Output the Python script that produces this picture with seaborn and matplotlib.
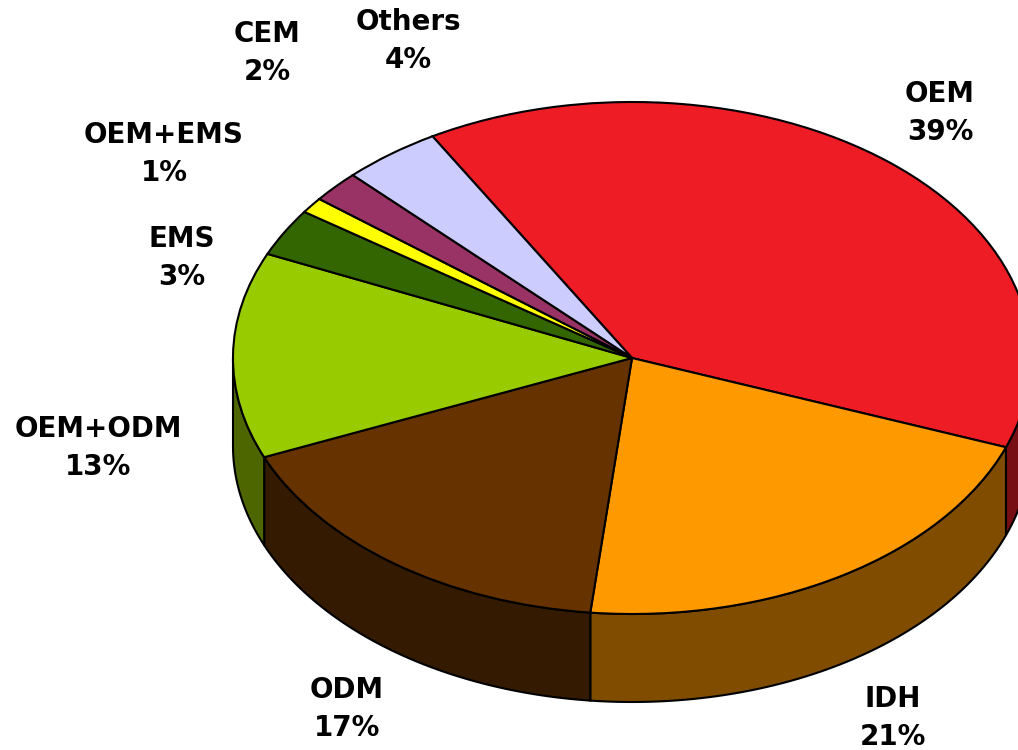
import numpy as np
import matplotlib
matplotlib.use('Agg')
import matplotlib.pyplot as plt
import seaborn as sns

# shares, clockwise from the Others/OEM edge
names = ['OEM', 'IDH', 'ODM', 'OEM+ODM', 'EMS', 'OEM+EMS', 'CEM', 'Others']
shares = [39, 21, 17, 13, 3, 1, 2, 4]
top_colors = ['#ee1c25', '#ff9900', '#663300', '#99cc00', '#336600', '#ffff00', '#993366', '#ccccff']
side_colors = ['#770e13', '#804d00', '#331a00', '#4d6600', '#1a3300', '#808000', '#4d1a33', '#666680']

# label centres in pixels of the picture
label_x = [940, 893, 347, 98, 182, 164, 267, 408]
label_y = [113, 718, 709, 448, 258, 154, 53, 41]

sns.set_theme(style='white')
plt.rcParams['font.family'] = ['DejaVu Sans']

W, H = 1018, 750
cx, cy = 632, 358   # pie centre
rx, ry = 399, 256   # ellipse radii
depth = 88 / ry     # wall height in pie units
start = 120

fig = plt.figure(figsize=(W / 100, H / 100), dpi=100)
ax = fig.add_axes([0, 0, 1, 1])

# side wall first, only the part facing the viewer (-180..0 degrees)
edges = start - np.cumsum([0] + shares) * 3.6
for i in range(len(shares)):
    lo = max(edges[i + 1], -180)
    hi = min(edges[i], 0)
    if hi <= lo:
        continue
    t = np.radians(np.linspace(lo, hi, 80))
    xs = np.cos(t)
    ys = np.sin(t)
    ax.fill(np.r_[xs, xs[::-1]], np.r_[ys, ys[::-1] - depth],
            facecolor=side_colors[i], edgecolor='black', linewidth=1.5, zorder=1)

ax.pie(shares, colors=top_colors, startangle=start, counterclock=False,
       wedgeprops={'edgecolor': 'black', 'linewidth': 1.5, 'zorder': 2}, frame=False)

ax.set_aspect('auto')
ax.set_xlim(-cx / rx, (W - cx) / rx)
ax.set_ylim((cy - H) / ry, cy / ry)
ax.axis('off')

for n, s, lx, ly in zip(names, shares, label_x, label_y):
    fig.text(lx / W, 1 - ly / H, f'{n}\n{s}%', ha='center', va='center',
             fontsize=20, fontweight='bold', color='black', linespacing=1.49)

fig.savefig('out.png', dpi=100)
